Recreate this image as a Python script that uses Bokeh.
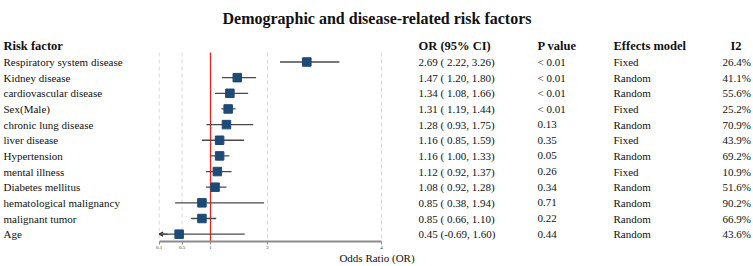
from bokeh.plotting import figure
from bokeh.models import (Range1d, LinearAxis, FixedTicker, ColumnDataSource,
                          Arrow, OpenHead, CustomJSTickFormatter)
from bokeh.core.properties import value
from bokeh.embed import file_html
from bokeh.resources import INLINE

# ---- data -------------------------------------------------------------
factors = ["Respiratory system disease", "Kidney disease", "cardiovascular disease",
           "Sex(Male)", "chronic lung disease", "liver disease", "Hypertension",
           "mental illness", "Diabetes mellitus", "hematological malignancy",
           "malignant tumor", "Age"]
odds_ratio = [2.69, 1.47, 1.34, 1.31, 1.28, 1.16, 1.16, 1.12, 1.08, 0.85, 0.85, 0.45]
ci_low = [2.22, 1.20, 1.08, 1.19, 0.93, 0.85, 1.00, 0.92, 0.92, 0.38, 0.66, -0.69]
ci_high = [3.26, 1.80, 1.66, 1.44, 1.75, 1.59, 1.33, 1.37, 1.28, 1.94, 1.10, 1.60]
p_values = ["< 0.01", "< 0.01", "< 0.01", "< 0.01", "0.13", "0.35", "0.05",
            "0.26", "0.34", "0.71", "0.22", "0.44"]
effects_model = ["Fixed", "Random", "Random", "Fixed", "Random", "Fixed", "Random",
                 "Fixed", "Random", "Random", "Random", "Random"]
i2_values = ["26.4%", "41.1%", "55.6%", "25.2%", "70.9%", "43.9%", "69.2%",
             "10.9%", "51.6%", "90.2%", "66.9%", "43.6%"]
x_ticks = [0.1, 0.5, 1, 2, 4]
headers = ["Risk factor", "OR (95% CI)", "P value", "Effects model", "I2"]
title_text = "Demographic and disease-related risk factors"

# ---- geometry ---------------------------------------------------------
W, H = 753, 266
FRAME_H = 241            # frame height; the OR axis sits on its lower edge
PX_PER_UNIT = 57.0       # linear OR scale
PX_AT_ONE = 210.0        # pixel column of OR = 1
ROW0_PX, ROW_STEP = 61.5, 15.65

x_min = min(x_ticks)
x_max = max(x_ticks)


def px_x(px):
    """Horizontal pixel -> data coordinate."""
    return 1 + (px - PX_AT_ONE) / PX_PER_UNIT


def px_y(py):
    """Vertical pixel (from top) -> row coordinate."""
    return (py - ROW0_PX) / ROW_STEP


p = figure(frame_width=W, frame_height=FRAME_H, output_backend="svg", toolbar_location=None,
           x_axis_type=None, y_axis_type=None,
           x_range=Range1d(px_x(0), px_x(W)),
           y_range=Range1d(px_y(FRAME_H), px_y(0)),
           min_border_left=0, min_border_right=0, min_border_top=0,
           min_border_bottom=H - FRAME_H)
p.outline_line_color = None
p.xgrid.visible = False
p.ygrid.visible = False
p.background_fill_color = "white"
p.border_fill_color = "white"

SERIF = value("Liberation Serif")
rows = list(range(len(factors)))

# ---- reference lines ----------------------------------------------------
grid_top = px_y(52)
grid_bottom = px_y(FRAME_H)
dashed = [t for t in x_ticks if t != 1]
p.segment(x0=dashed, x1=dashed, y0=[grid_top] * len(dashed), y1=[grid_bottom] * len(dashed),
          line_color="#d9d9d9", line_width=1, line_dash="4 3")
p.segment(x0=[1], x1=[1], y0=[grid_top], y1=[grid_bottom], line_color="#e8261f", line_width=1.3)

# ---- confidence intervals --------------------------------------------
lo_clip = [max(v, x_min) for v in ci_low]
hi_clip = [min(v, x_max) for v in ci_high]
src = ColumnDataSource(dict(y=rows, orv=odds_ratio, lo=lo_clip, hi=hi_clip))
p.segment(x0="lo", x1="hi", y0="y", y1="y", source=src, line_color="#4a4a4a", line_width=1.3)

# open arrow heads where the interval runs past the axis
for r, lo_raw in zip(rows, ci_low):
    if lo_raw < x_min:
        p.add_layout(Arrow(end=OpenHead(size=4, line_color="#333333", line_width=1.2),
                           x_start=x_min + 0.15, y_start=r, x_end=x_min, y_end=r,
                           line_color="#4a4a4a", line_width=1.3))

p.scatter(x="orv", y="y", source=src, marker="square", size=8.5,
          fill_color="#1d4a77", line_color="#1d4a77")

# ---- table text ---------------------------------------------------------
ci_text = [f"{o:.2f} ({l:5.2f}, {h:.2f})" for o, l, h in zip(odds_ratio, ci_low, ci_high)]
col_px = [3, 418, 537, 613, 722]
columns = [factors, ci_text, p_values, effects_model, i2_values]
for cx, texts in zip(col_px, columns):
    p.text(x=[px_x(cx)] * len(texts), y=rows, text=texts,
           text_font=SERIF, text_font_size="11px", text_color="#111111",
           text_baseline="middle", text_align="left")

header_px = [3, 418, 537, 613, 730]
p.text(x=[px_x(c) for c in header_px], y=[px_y(45)] * len(headers), text=headers,
       text_font=SERIF, text_font_size="12.5px", text_font_style="bold",
       text_color="#111111", text_baseline="middle", text_align="left")

p.text(x=[px_x(W / 2)], y=[px_y(18)], text=[title_text],
       text_font=SERIF, text_font_size="16px", text_font_style="bold",
       text_color="#111111", text_baseline="middle", text_align="center")

# ---- OR axis --------------------------------------------------------------
ax = LinearAxis(ticker=FixedTicker(ticks=x_ticks), bounds=(x_min, x_max),
                axis_label="Odds Ratio (OR)")
ax.formatter = CustomJSTickFormatter(code="return String(tick);")
ax.axis_line_color = "#8c8c8c"
ax.axis_line_width = 2
ax.major_tick_line_color = "#8c8c8c"
ax.major_tick_in = 0
ax.major_tick_out = 3
ax.minor_tick_line_color = None
ax.major_label_text_font = "Liberation Serif"
ax.major_label_text_font_size = "5px"
ax.major_label_text_color = "#333333"
ax.major_label_standoff = 1
ax.axis_label_text_font = "Liberation Serif"
ax.axis_label_text_font_size = "11px"
ax.axis_label_text_font_style = "normal"
ax.axis_label_text_color = "#111111"
ax.axis_label_standoff = 0
p.add_layout(ax, "below")

open("out.html", "w").write(file_html(p, INLINE))
